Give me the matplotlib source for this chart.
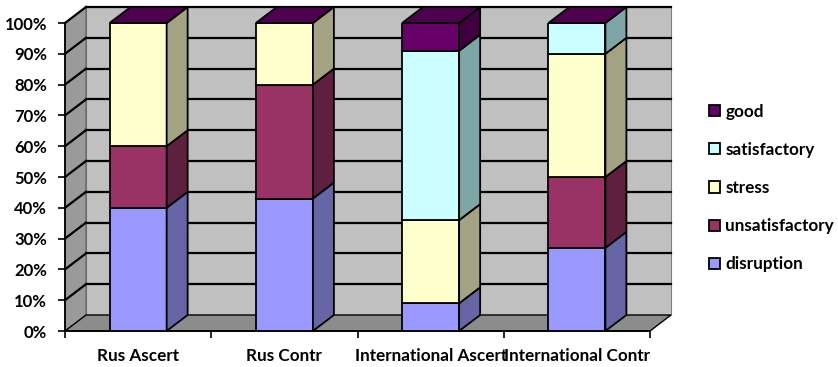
import matplotlib.pyplot as plt
from matplotlib.patches import Polygon, Patch

categories = ["Rus Ascert", "Rus Contr", "International Ascert", "International Contr"]
series = ["disruption", "unsatisfactory", "stress", "satisfactory", "good"]
disruption = [40, 43, 9, 27]
unsatisfactory = [20, 37, 0, 23]
stress = [40, 20, 27, 40]
satisfactory = [0, 0, 55, 10]
good = [0, 0, 9, 0]
values = [disruption, unsatisfactory, stress, satisfactory, good]

front_colors = ["#9999ff", "#993366", "#ffffcc", "#ccffff", "#660066"]
side_colors = ["#6666a6", "#5f1f3f", "#a3a384", "#7fa6a6", "#40003f"]
top_color = "#4d004d"

yticks = list(range(0, 101, 10))

# 3D depth offset in data units
DX = 21 / 146.25
DY = 16 / 3.08
BAR_W = 0.39
EDGE = dict(edgecolor="black", linewidth=1.3)

plt.rcParams["font.family"] = ["Lato", "DejaVu Sans"]
plt.rcParams["font.weight"] = "bold"

fig = plt.figure(figsize=(8.38, 3.67), dpi=100)
ax = fig.add_axes([65 / 838, 36 / 367, 585 / 838, 308 / 367])
n = len(categories)
ax.set_xlim(0, n)
ax.set_ylim(0, 100)
for s in ax.spines.values():
    s.set_visible(False)

def poly(pts, color, z, **kw):
    ax.add_patch(Polygon(pts, closed=True, facecolor=color, clip_on=False, zorder=z, **kw))

# walls and floor
poly([(DX, DY), (n + DX, DY), (n + DX, 100 + DY), (DX, 100 + DY)], "#c0c0c0", 0,
     edgecolor="#808080", linewidth=0.8)
poly([(0, 0), (DX, DY), (DX, 100 + DY), (0, 100)], "#9a9a9a", 0.5,
     edgecolor="#606060", linewidth=0.8)
poly([(0, 0), (n, 0), (n + DX, DY), (DX, DY)], "#8c8c8c", 0.5,
     edgecolor="black", linewidth=1.0)
for y in yticks[1:]:
    ax.plot([DX, n + DX], [y + DY, y + DY], color="black", lw=1.6, clip_on=False, zorder=1)
    ax.plot([0, DX], [y, y + DY], color="black", lw=1.6, clip_on=False, zorder=1)
ax.plot([0, 0], [0, 100], color="black", lw=1.3, clip_on=False, zorder=1)
ax.plot([0, n], [0, 0], color="black", lw=1.3, clip_on=False, zorder=1)

# stacked 3D bars
xs = [i + 0.5 for i in range(n)]
bottoms = [0] * n
for k, vals in enumerate(values):
    ax.bar(xs, vals, BAR_W, bottom=bottoms, color=front_colors[k], zorder=3, **EDGE)
    for i, v in enumerate(vals):
        if v <= 0:
            continue
        x1 = xs[i] + BAR_W / 2
        b, t = bottoms[i], bottoms[i] + v
        poly([(x1, b), (x1 + DX, b + DY), (x1 + DX, t + DY), (x1, t)], side_colors[k], 3, **EDGE)
    bottoms = [b + v for b, v in zip(bottoms, vals)]
for i in range(n):
    x0, x1, t = xs[i] - BAR_W / 2, xs[i] + BAR_W / 2, bottoms[i]
    poly([(x0, t), (x0 + DX, t + DY), (x1 + DX, t + DY), (x1, t)], top_color, 3, **EDGE)

# axes ticks
ax.set_yticks(yticks)
ax.set_yticklabels([f"{y}%" for y in yticks], fontsize=12, fontweight="bold")
ax.set_xticks(xs)
ax.set_xticklabels(categories, fontsize=12.3, fontweight="bold")
ax.set_xticks(range(n + 1), minor=True)
ax.tick_params(axis="x", which="major", length=0, pad=12)
ax.tick_params(axis="x", which="minor", length=5, width=1.2, direction="out")
ax.tick_params(axis="y", length=5, width=1.2, direction="out", pad=8)

handles = [Patch(facecolor=front_colors[k], edgecolor="black", linewidth=1.3, label=series[k])
           for k in range(len(series))][::-1]
fig.legend(handles=handles, loc="center left", bbox_to_anchor=(709 / 838, 1 - 188 / 367),
           frameon=False, prop=dict(family=["Lato"], weight="bold", size=12.3),
           handlelength=0.65, handleheight=0.65, handletextpad=0.3, labelspacing=1.3,
           borderpad=0, borderaxespad=0)

fig.savefig("out.png", dpi=100)
